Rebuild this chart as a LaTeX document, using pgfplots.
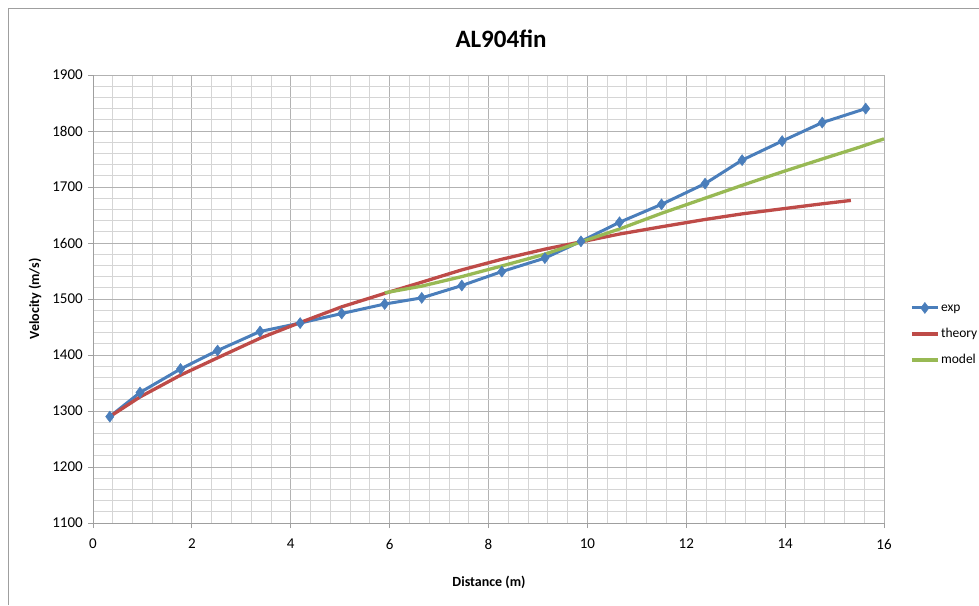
\documentclass[border=0pt]{standalone}
\usepackage{pgfplots}
\pgfplotsset{compat=1.18}
\usepackage{fontspec}
\setmainfont{Carlito}
\definecolor{cblue}{HTML}{4A7EBB}
\definecolor{cred}{HTML}{BE4B48}
\definecolor{cgreen}{HTML}{98B954}
\begin{document}
\begin{tikzpicture}[x=1pt,y=1pt]
\useasboundingbox (0,0) rectangle (979,605);
\draw[gray!75, line width=1pt] (8,0) -- (8,596) -- (979,596);
\node[anchor=base, font=\fontsize{25}{28}\selectfont\bfseries] at (501,557) {AL904fin};
\node[anchor=base, font=\fontsize{14}{16}\selectfont\bfseries] at (489,19) {Distance (m)};
\node[rotate=90, font=\fontsize{14}{16}\selectfont\bfseries] at (35,306) {Velocity (m/s)};
\begin{axis}[
  at={(93pt,82pt)}, anchor=south west, scale only axis,
  width=791pt, height=448pt,
  xmin=0, xmax=16, ymin=1100, ymax=1900,
  xtick={0,2,...,16}, ytick={1100,1200,...,1900},
  minor x tick num=4, minor y tick num=4,
  grid=both,
  major grid style={draw=gray!60, line width=0.9pt},
  minor grid style={draw=gray!33, line width=0.9pt},
  axis x line=bottom, axis y line=left,
  axis line style={-, draw=gray!75, line width=0.9pt},
  tick align=outside, major tick length=5pt, minor tick length=0pt,
  tick style={draw=gray!75, line width=0.9pt},
  /pgf/number format/assume math mode=true,
  /pgf/number format/1000 sep={},
  tick label style={font=\fontsize{15}{17}\selectfont},
  xticklabel style={inner sep=0pt, anchor=north, yshift=-11pt},
  yticklabel style={inner sep=0pt, anchor=east, xshift=-5pt},
  legend style={at={(1.0291,0.4219)}, anchor=west, draw=none, fill=none,
    font=\fontsize{13.5}{16}\selectfont, row sep=13pt,
    nodes={inner sep=0pt, inner xsep=1.5pt, text height=10pt, text depth=3pt}},
  legend cell align=left,
  legend image code/.code={\draw[mark repeat=2,mark phase=2,#1] plot coordinates {(0pt,0pt) (13pt,0pt) (26pt,0pt)};},
  clip=false,
]
\addplot[cblue, line width=3pt, mark=diamond*, mark size=5.5pt, mark options={solid, fill=cblue, draw=cblue, line width=0.5pt}] coordinates {
(0.34,1290) (0.95,1333) (1.77,1375) (2.52,1408) (3.38,1442) (4.19,1457)
(5.03,1474) (5.90,1491) (6.65,1502) (7.46,1524) (8.27,1549) (9.14,1573)
(9.87,1603) (10.65,1637) (11.50,1669) (12.38,1706) (13.13,1748) (13.94,1782)
(14.75,1815) (15.63,1840)
};
\addlegendentry{exp}
\addplot[cred, line width=3.3pt] coordinates {
(0.34,1290) (0.95,1325) (1.77,1364) (2.52,1395) (3.38,1430) (4.19,1458)
(5.03,1486) (5.90,1510) (6.65,1530) (7.46,1552) (8.27,1571) (9.14,1589)
(9.87,1602) (10.65,1616) (11.50,1629) (12.38,1642) (13.13,1652) (13.94,1661)
(14.75,1670) (15.33,1676)
};
\addlegendentry{theory}
\addplot[cgreen, line width=3.3pt] coordinates {
(5.90,1511) (6.65,1523) (7.46,1540) (8.27,1559) (9.14,1580) (9.87,1602)
(10.65,1625) (11.50,1653) (12.38,1680) (13.13,1703) (13.94,1727) (14.75,1750)
(15.50,1771) (16.00,1786)
};
\addlegendentry{model}
\end{axis}
\end{tikzpicture}
\end{document}
